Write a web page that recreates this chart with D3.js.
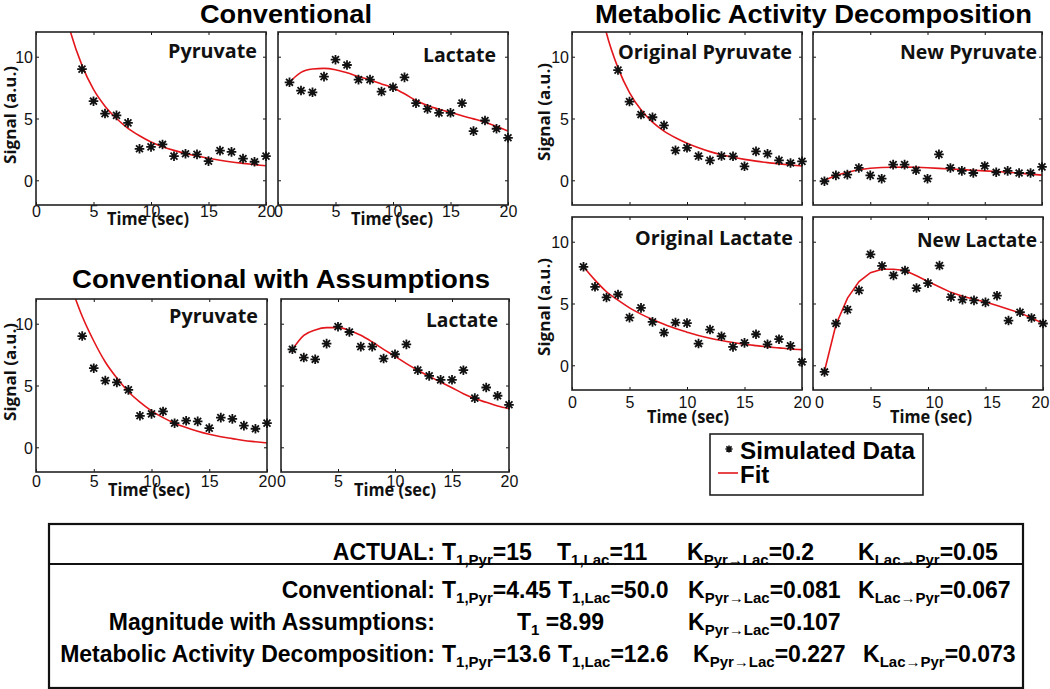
<!DOCTYPE html>
<html><head><meta charset="utf-8">
<script src="https://cdn.jsdelivr.net/npm/d3@7"></script>
<style>body{margin:0;background:#fff}svg{display:block}</style>
</head><body>
<svg id="c" width="1050" height="689"></svg>
<script>
// ---------------- DATA ----------------
const xTickValues = [0, 5, 10, 15, 20];
const yTickValues = [0, 5, 10];

const pyrTimes = [4,5,6,7,8,9,10,11,12,13,14,15,16,17,18,19,20];
const lacTimes = [1,2,3,4,5,6,7,8,9,10,11,12,13,14,15,16,17,18,19,20];
const pyrFitTimes = [2,3,4,5,6,7,8,9,10,11,12,13,14,15,16,17,18,19,20];
const assumpPyrFitTimes = [3,4,5,6,7,8,9,10,11,12,13,14,15,16,17,18,19,20];

// Conventional (and Conventional with Assumptions) simulated data
const pyruvateData = [9.0,6.4,5.4,5.25,4.65,2.55,2.7,2.9,1.95,2.15,2.1,1.55,2.4,2.3,1.75,1.5,1.95];
const lactateData  = [7.93,7.26,7.12,8.39,9.76,9.33,8.15,8.15,7.18,7.53,8.33,6.24,5.78,5.46,5.46,6.24,3.98,4.84,4.17,3.44];

const convPyrFit = [15.8,12.0,9.3,7.35,6.0,5.0,4.2,3.6,3.1,2.72,2.42,2.17,1.96,1.78,1.62,1.48,1.37,1.27,1.17];
const convLacFit = [7.93,8.73,9.0,9.06,8.95,8.7,8.4,8.12,7.8,7.47,7.0,6.45,6.05,5.75,5.5,5.22,4.97,4.7,4.35,3.98];

const assumpPyrFit = [13.1,10.6,8.6,6.9,5.6,4.5,3.65,2.95,2.4,1.95,1.6,1.3,1.05,0.85,0.7,0.55,0.45,0.35];
const assumpLacFit = [7.92,9.06,9.5,9.68,9.68,9.46,9.06,8.52,7.92,7.36,6.77,6.23,5.74,5.28,4.82,4.34,3.94,3.64,3.34,3.13];

// Metabolic Activity Decomposition
const origPyrData = [8.92,6.37,5.32,5.1,4.44,2.42,2.63,1.96,1.61,1.96,1.94,1.13,2.34,2.15,1.61,1.4,1.53];
const origPyrFit  = [16.2,11.9,9.1,7.1,5.7,4.7,3.98,3.44,3.0,2.63,2.32,2.07,1.86,1.69,1.55,1.43,1.33,1.24,1.16];

const newPyrData = [-0.08,0.4,0.46,1.0,0.4,0.13,1.27,1.27,0.81,0.13,2.1,1.0,0.76,0.59,1.16,0.65,0.76,0.59,0.59,1.08];
const newPyrFit  = [0,0.38,0.65,0.85,0.97,1.03,1.06,1.07,1.05,1.01,0.96,0.91,0.86,0.81,0.76,0.71,0.65,0.58,0.5,0.42];

const origLacData = [7.97,6.35,5.49,5.73,3.86,4.65,3.51,2.65,3.46,3.41,1.76,2.89,2.35,1.49,1.81,2.51,1.7,2.11,1.57,0.27];
const origLacFit  = [7.97,6.89,5.95,5.27,4.65,4.14,3.7,3.32,2.97,2.68,2.41,2.19,2.0,1.84,1.7,1.59,1.49,1.41,1.32,1.27];

const newLacData = [-0.54,3.38,4.5,6.06,8.98,8.04,7.27,7.67,6.25,6.65,8.07,5.52,5.31,5.25,5.09,5.63,3.62,4.29,3.83,3.38];
const newLacFit  = [-0.46,3.3,5.44,6.78,7.5,7.77,7.77,7.67,7.24,6.78,6.33,5.9,5.58,5.34,5.12,4.83,4.53,4.24,3.82,3.4];

const titles = ["Conventional", "Metabolic Activity Decomposition", "Conventional with Assumptions"];
const legendLabels = ["Simulated Data", "Fit"];

const tableLabels = ["ACTUAL:", "Conventional:", "Magnitude with Assumptions:", "Metabolic Activity Decomposition:"];
const tableCells = [
  [["T","1,Pyr","=15"], ["T","1,Lac","=11"], ["K","Pyr\u2192Lac","=0.2"], ["K","Lac\u2192Pyr","=0.05"]],
  [["T","1,Pyr","=4.45"], ["T","1,Lac","=50.0"], ["K","Pyr\u2192Lac","=0.081"], ["K","Lac\u2192Pyr","=0.067"]],
  [["T","1"," =8.99"], ["K","Pyr\u2192Lac","=0.107"]],
  [["T","1,Pyr","=13.6"], ["T","1,Lac","=12.6"], ["K","Pyr\u2192Lac","=0.227"], ["K","Lac\u2192Pyr","=0.073"]]
];

// ---------------- LAYOUT ----------------
const HELV = "'Liberation Sans', Arial, Helvetica, sans-serif";
const HUM = "'Open Sans', 'Noto Sans', sans-serif";
const RED = "#e3161b";

const svg = d3.select("#c");

const panels = [
  {name:"Pyruvate", t:pyrTimes, d:pyruvateData, ft:pyrFitTimes, f:convPyrFit,
   x0:36, x1:266, y0:32, y1:205, lab:{x:257,y:58,w:89}, yLab:true, xLab:217, time:{x:148,y:225}, sig:{x:16,y:115}},
  {name:"Lactate", t:lacTimes, d:lactateData, ft:lacTimes, f:convLacFit,
   x0:278, x1:508, y0:32, y1:205, lab:{x:496,y:62,w:73}, yLab:false, xLab:217, time:{x:392,y:225}},
  {name:"Pyruvate", t:pyrTimes, d:pyruvateData, ft:assumpPyrFitTimes, f:assumpPyrFit,
   x0:36, x1:267, y0:299, y1:472, lab:{x:258,y:323,w:89}, yLab:true, xLab:487, time:{x:149,y:496}, sig:{x:16,y:372}},
  {name:"Lactate", t:lacTimes, d:lactateData, ft:lacTimes, f:assumpLacFit,
   x0:281, x1:509, y0:299, y1:472, lab:{x:498,y:327,w:72}, yLab:false, xLab:487, time:{x:395,y:496}},
  {name:"Original Pyruvate", t:pyrTimes, d:origPyrData, ft:pyrFitTimes, f:origPyrFit,
   x0:572, x1:802, y0:32, y1:205, lab:{x:792,y:59,w:174}, yLab:true, xLab:null, sig:{x:550,y:112}},
  {name:"New Pyruvate", t:lacTimes, d:newPyrData, ft:lacTimes, f:newPyrFit, linear:true,
   x0:813, x1:1042, y0:32, y1:205, lab:{x:1037,y:59,w:137}, yLab:false, xLab:null},
  {name:"Original Lactate", t:lacTimes, d:origLacData, ft:lacTimes, f:origLacFit,
   x0:572, x1:802, y0:217, y1:390, lab:{x:793,y:245,w:158}, yLab:true, xLab:408, time:{x:688,y:423}, sig:{x:550,y:307}},
  {name:"New Lactate", t:lacTimes, d:newLacData, ft:lacTimes, f:newLacFit, linear:true,
   x0:813, x1:1043, y0:217, y1:390, lab:{x:1037,y:247,w:120}, yLab:false, xLab:408, xLabDx:[6,6,6,6,-3], time:{x:931,y:423}}
];

function starPath(cx, cy, r) {
  const d = r * 0.72;
  return `M${cx-r},${cy}H${cx+r}M${cx},${cy-r}V${cy+r}` +
         `M${cx-d},${cy-d}L${cx+d},${cy+d}M${cx-d},${cy+d}L${cx+d},${cy-d}`;
}

panels.forEach((p, i) => {
  const x = d3.scaleLinear().domain([0, 20]).range([p.x0, p.x1]);
  const y = d3.scaleLinear().domain([-2, 12]).range([p.y1, p.y0]);
  const g = svg.append("g");

  const clipId = "clip" + i;
  svg.append("clipPath").attr("id", clipId).append("rect")
    .attr("x", p.x0).attr("y", p.y0).attr("width", p.x1 - p.x0).attr("height", p.y1 - p.y0);

  // axes (inward ticks on all four sides)
  const styleAxis = (ag) => {
    ag.select(".domain").remove();
    ag.selectAll("line").attr("stroke", "#111").attr("stroke-width", 1);
    ag.selectAll("text").attr("font-family", HELV).attr("font-size", 16).attr("fill", "#111");
  };
  const bottom = g.append("g").attr("transform", `translate(0,${p.y1})`)
    .call(d3.axisBottom(x).tickValues(xTickValues).tickSize(-3)
      .tickFormat(p.xLab ? d3.format("d") : ""));
  styleAxis(bottom);
  if (p.xLab) bottom.selectAll("text").attr("y", p.xLab - p.y1).attr("dy", 0)
    .attr("dx", (d, k) => p.xLabDx ? p.xLabDx[k] : 0);
  const top = g.append("g").attr("transform", `translate(0,${p.y0})`)
    .call(d3.axisTop(x).tickValues(xTickValues).tickSize(-3).tickFormat(""));
  styleAxis(top);
  const left = g.append("g").attr("transform", `translate(${p.x0},0)`)
    .call(d3.axisLeft(y).tickValues(yTickValues).tickSize(-3)
      .tickFormat(p.yLab ? d3.format("d") : ""));
  styleAxis(left);
  if (p.yLab) left.selectAll("text").attr("x", -3).attr("dy", "0.36em");
  const right = g.append("g").attr("transform", `translate(${p.x1},0)`)
    .call(d3.axisRight(y).tickValues(yTickValues).tickSize(-3).tickFormat(""));
  styleAxis(right);

  // fit line
  const line = d3.line()
    .x((d, k) => x(p.ft[k])).y(d => y(d))
    .curve(p.linear ? d3.curveLinear : d3.curveMonotoneX);
  g.append("path").datum(p.f).attr("d", line)
    .attr("fill", "none").attr("stroke", RED).attr("stroke-width", 1.6)
    .attr("clip-path", `url(#${clipId})`);

  // frame
  g.append("rect").attr("x", p.x0).attr("y", p.y0)
    .attr("width", p.x1 - p.x0).attr("height", p.y1 - p.y0)
    .attr("fill", "none").attr("stroke", "#222").attr("stroke-width", 1.6);

  // markers
  g.selectAll("path.mk").data(p.d).join("path").attr("class", "mk")
    .attr("d", (d, k) => starPath(x(p.t[k]), y(d), 4.8))
    .attr("stroke", "#111").attr("stroke-width", 1.8).attr("fill", "none");

  // panel label
  g.append("text").text(p.name)
    .attr("x", p.lab.x).attr("y", p.lab.y).attr("text-anchor", "end")
    .attr("font-family", HUM).attr("font-weight", 700).attr("font-size", 20)
    .attr("textLength", p.lab.w).attr("lengthAdjust", "spacingAndGlyphs").attr("fill", "#111");

  if (p.time) {
    g.append("text").text("Time (sec)")
      .attr("x", p.time.x).attr("y", p.time.y).attr("text-anchor", "middle")
      .attr("font-family", HUM).attr("font-weight", 700).attr("font-size", 18)
      .attr("textLength", 82).attr("lengthAdjust", "spacingAndGlyphs").attr("fill", "#111");
  }
  if (p.sig) {
    g.append("text").text("Signal (a.u.)")
      .attr("transform", `translate(${p.sig.x},${p.sig.y}) rotate(-90)`)
      .attr("text-anchor", "middle")
      .attr("font-family", HUM).attr("font-weight", 700).attr("font-size", 16)
      .attr("textLength", 98).attr("lengthAdjust", "spacingAndGlyphs").attr("fill", "#111");
  }
});

// titles
const titlePos = [[286, 23, 172], [813.5, 23, 437], [281, 288, 418]];
titles.forEach((t, i) => {
  svg.append("text").text(t)
    .attr("x", titlePos[i][0]).attr("y", titlePos[i][1]).attr("text-anchor", "middle")
    .attr("font-family", HELV).attr("font-weight", 700).attr("font-size", 25)
    .attr("textLength", titlePos[i][2]).attr("lengthAdjust", "spacingAndGlyphs").attr("fill", "#000");
});

// legend
const lg = svg.append("g");
lg.append("rect").attr("x", 710).attr("y", 434).attr("width", 213).attr("height", 61)
  .attr("fill", "#fff").attr("stroke", "#222").attr("stroke-width", 1.6);
lg.append("path").attr("d", starPath(729, 449, 3.6))
  .attr("stroke", "#111").attr("stroke-width", 1.6).attr("fill", "none");
lg.append("line").attr("x1", 718).attr("x2", 738).attr("y1", 473).attr("y2", 473)
  .attr("stroke", RED).attr("stroke-width", 1.6);
lg.append("text").text(legendLabels[0]).attr("x", 740).attr("y", 459)
  .attr("font-family", HELV).attr("font-weight", 700).attr("font-size", 24)
  .attr("textLength", 175).attr("lengthAdjust", "spacingAndGlyphs");
lg.append("text").text(legendLabels[1]).attr("x", 740).attr("y", 483)
  .attr("font-family", HELV).attr("font-weight", 700).attr("font-size", 24);

// table
const tb = svg.append("g");
tb.append("rect").attr("x", 49).attr("y", 524).attr("width", 974).attr("height", 164)
  .attr("fill", "none").attr("stroke", "#111").attr("stroke-width", 2.2);
tb.append("line").attr("x1", 49).attr("x2", 1023).attr("y1", 564).attr("y2", 564)
  .attr("stroke", "#111").attr("stroke-width", 2);
const rowBase = [560, 598, 630, 662];
const cellX = [[442, 557, 687, 858], [442, 558, 688, 858], [517, 688], [442, 558, 693, 863]];
tableLabels.forEach((lab, r) => {
  tb.append("text").text(lab).attr("x", 435).attr("y", rowBase[r]).attr("text-anchor", "end")
    .attr("font-family", HELV).attr("font-weight", 700).attr("font-size", 23).attr("fill", "#000");
  tableCells[r].forEach((c, k) => {
    const t = tb.append("text").attr("x", cellX[r][k]).attr("y", rowBase[r])
      .attr("font-family", HELV).attr("font-weight", 700).attr("font-size", 23).attr("fill", "#000");
    t.append("tspan").text(c[0]);
    t.append("tspan").text(c[1]).attr("font-size", 15).attr("dy", 5);
    t.append("tspan").text(c[2]).attr("dy", -5);
  });
});
</script>
</body></html>
